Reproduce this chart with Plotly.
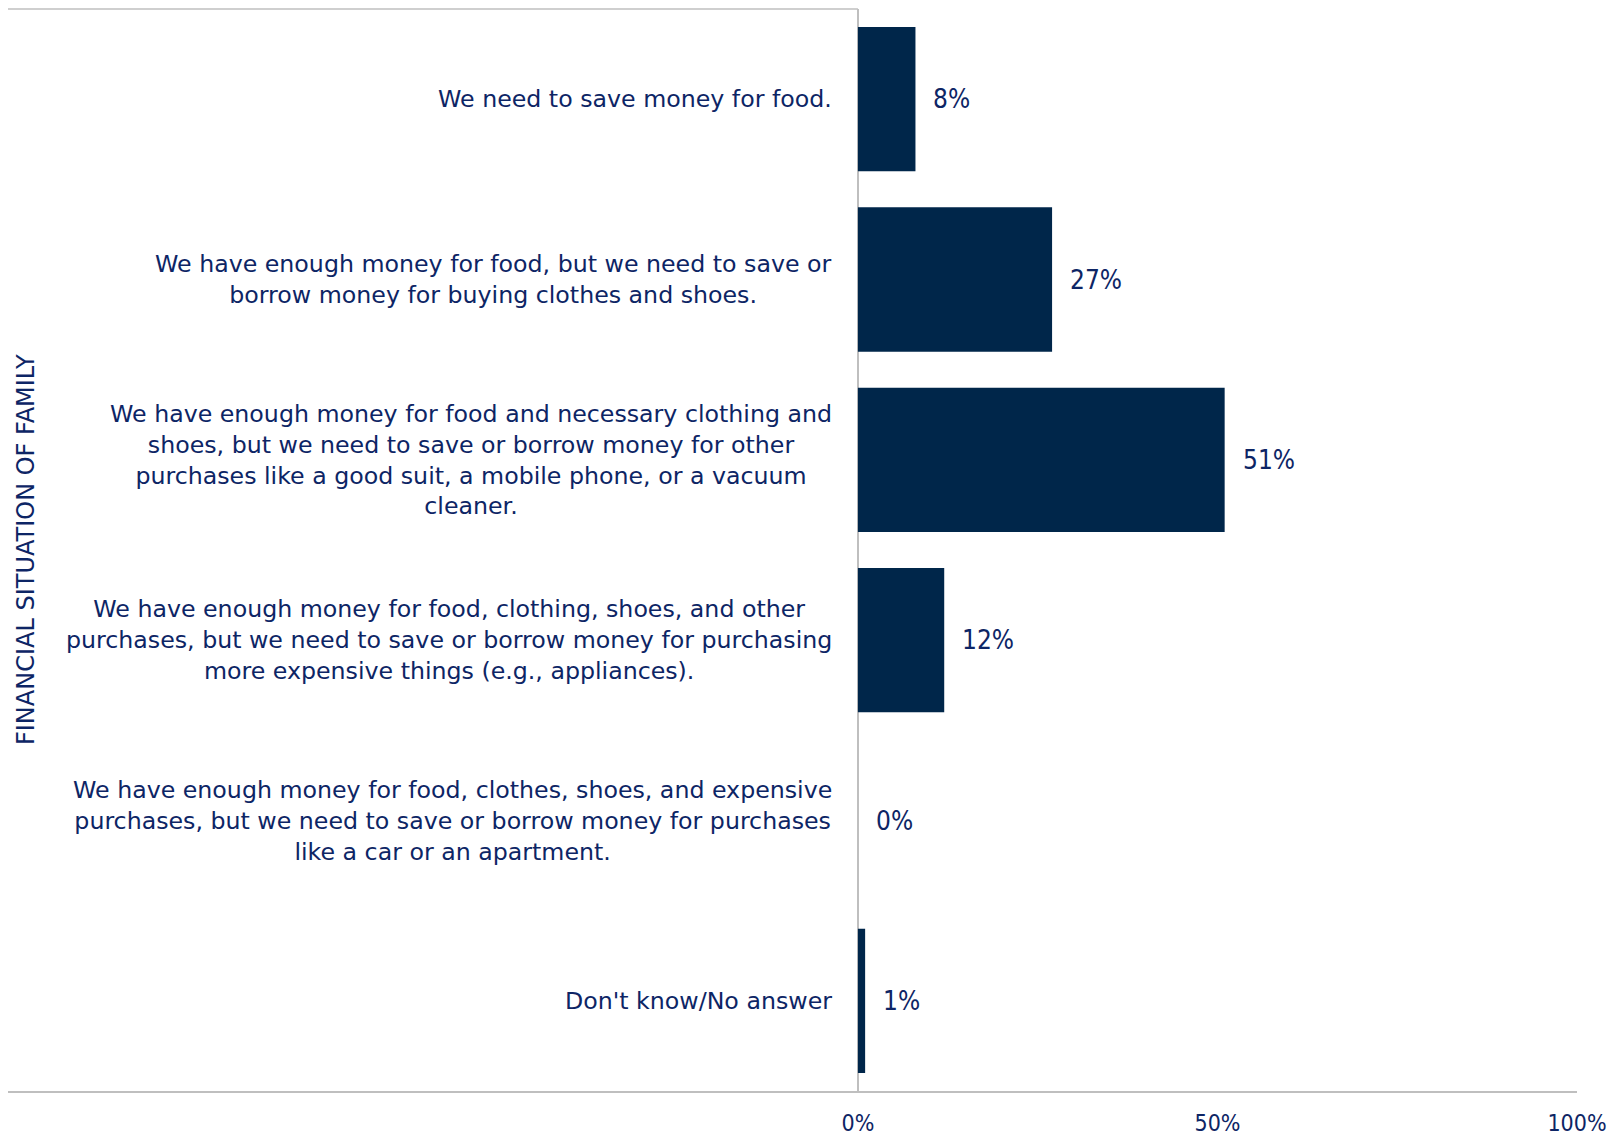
import plotly.graph_objects as go

categories = [
    "We need to save money for food.",
    "We have enough money for food, but we need to save or<br>borrow money for buying clothes and shoes.",
    "We have enough money for food and necessary clothing and<br>shoes, but we need to save or borrow money for other<br>purchases like a good suit, a mobile phone, or a vacuum<br>cleaner.",
    "We have enough money for food, clothing, shoes, and other<br>purchases, but we need to save or borrow money for purchasing<br>more expensive things (e.g., appliances).",
    "We have enough money for food, clothes, shoes, and expensive<br>purchases, but we need to save or borrow money for purchases<br>like a car or an apartment.",
    "Don't know/No answer",
]
values = [8, 27, 51, 12, 0, 1]
tick_vals = [0, 50, 100]
tick_text = ["0%", "50%", "100%"]
axis_title = "FINANCIAL SITUATION OF FAMILY"

BAR = "#00264A"
TXT = "#0D2565"
GRID = "#BFBFBF"
FONT = "DejaVu Sans"
FONT_C = "DejaVu Sans Condensed"
XMIN = -118.2

fig = go.Figure()
fig.add_trace(go.Bar(
    x=values, y=categories, orientation="h",
    marker=dict(color=BAR, line=dict(width=0)),
    width=0.8, hoverinfo="skip",
))

for c, v in zip(categories, values):
    fig.add_annotation(x=0, y=c, xref="x", yref="y", text=c, showarrow=False,
                       xanchor="right", align="center", xshift=-24,
                       font=dict(family=FONT, size=23.7, color=TXT))
    fig.add_annotation(x=v, y=c, xref="x", yref="y", text=f"{v}%", showarrow=False,
                       xanchor="left", xshift=16,
                       font=dict(family=FONT_C, size=26, color=TXT))

fig.add_annotation(x=0.0115, y=0.5, xref="paper", yref="paper", text=axis_title,
                   showarrow=False, textangle=-90, xanchor="center", yanchor="middle",
                   font=dict(family=FONT, size=24, color=TXT))

# top border over label area
fig.add_shape(type="line", xref="x", yref="paper", x0=XMIN, x1=0, y0=1, y1=1,
              line=dict(color=GRID, width=1.5))

fig.update_layout(
    width=1621, height=1136,
    margin=dict(l=0, r=52, t=1, b=53, autoexpand=False),
    plot_bgcolor="white", paper_bgcolor="white",
    showlegend=False,
    xaxis=dict(range=[XMIN, 100], tickvals=tick_vals, ticktext=tick_text,
               showgrid=False, zeroline=True, zerolinecolor=GRID, zerolinewidth=1.5,
               showline=True, linecolor=GRID, linewidth=2, ticks="",
               ticklabelstandoff=10, automargin=False,
               tickfont=dict(family=FONT_C, size=23, color=TXT)),
    yaxis=dict(categoryorder="array", categoryarray=categories, autorange="reversed",
               showticklabels=False, showgrid=False, zeroline=False, showline=False,
               automargin=False, range=[5.5, -0.5]),
    bargap=0.2,
)

fig.write_html("out.html")
